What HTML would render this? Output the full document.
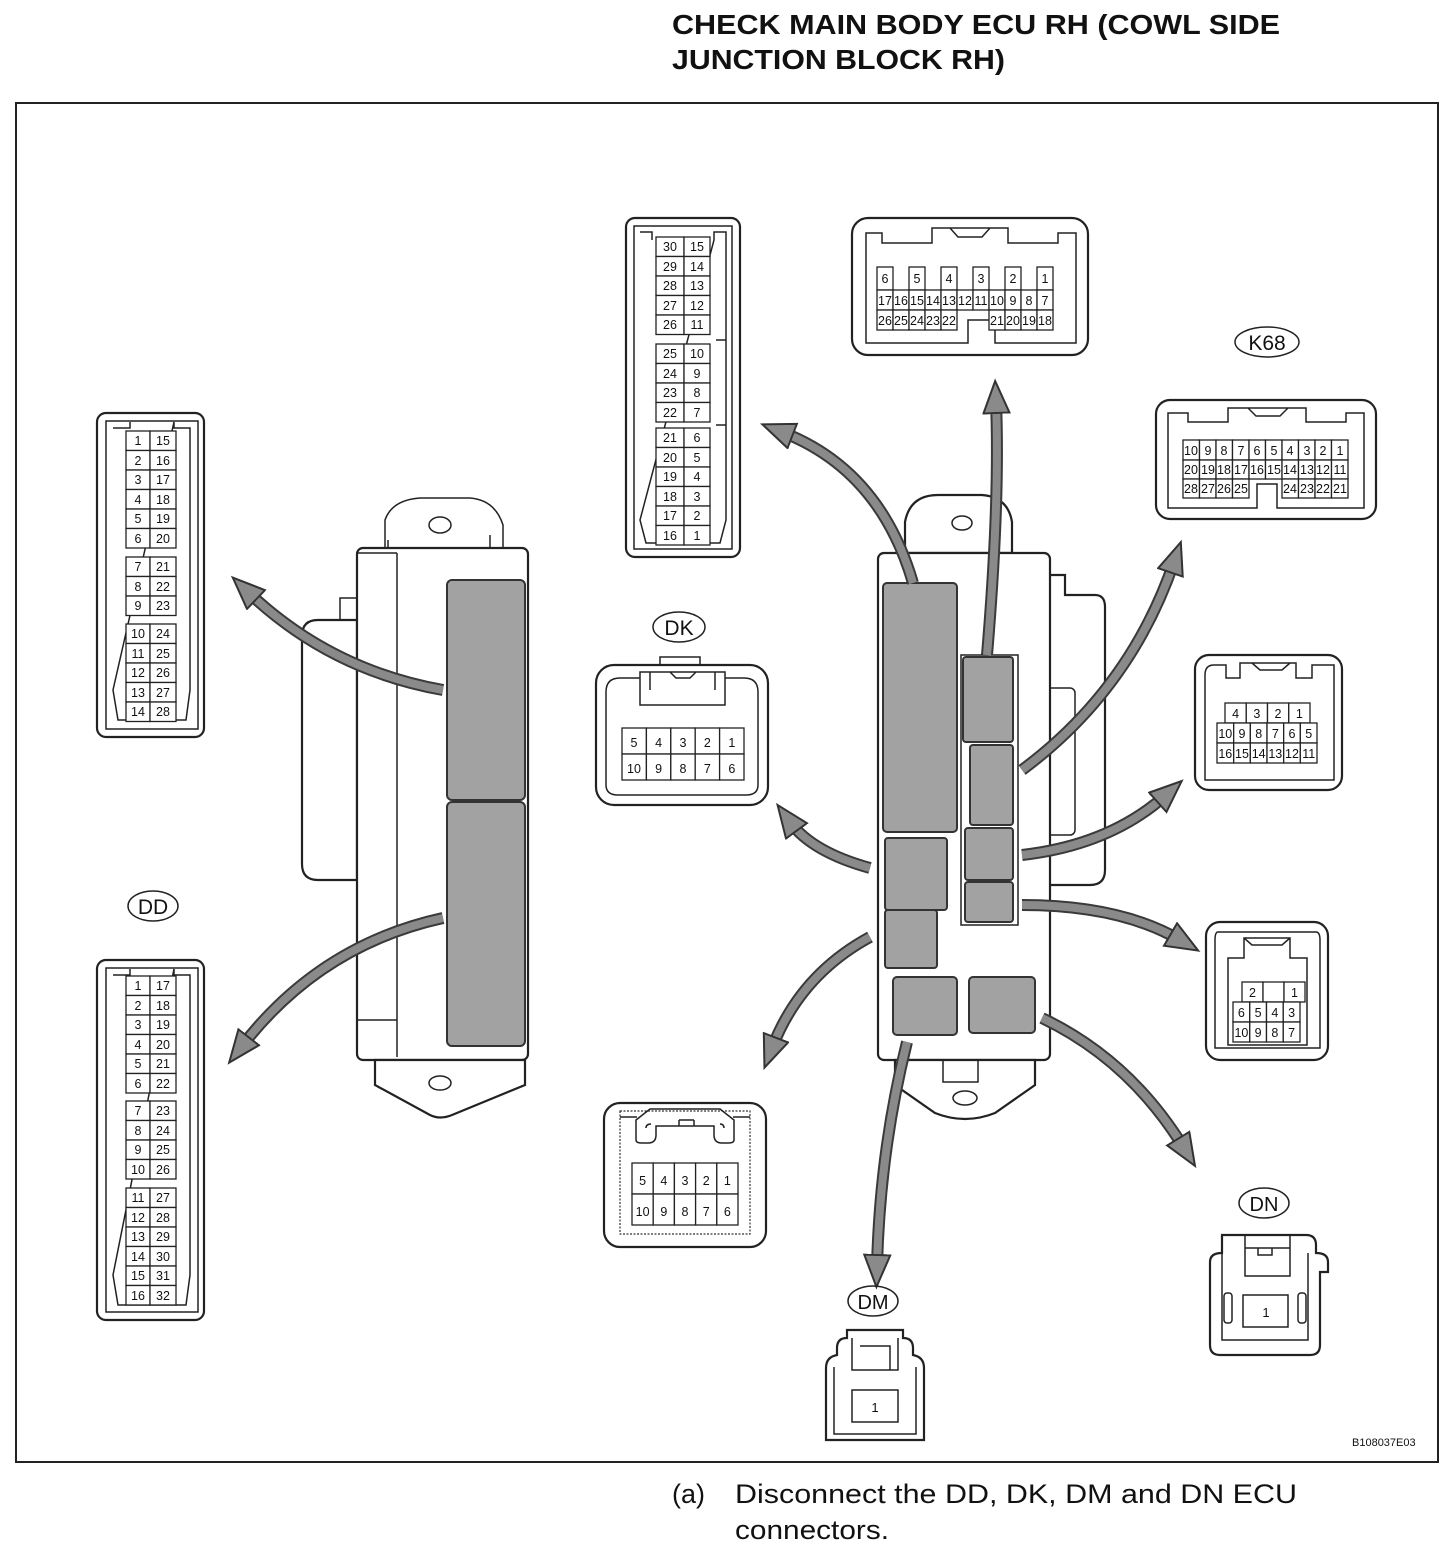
<!DOCTYPE html>
<html><head><meta charset="utf-8"><style>
html,body{margin:0;padding:0;background:#fff;}
svg{display:block;}
text{font-family:"Liberation Sans",Arial,sans-serif;fill:#111;}
.c rect{fill:#fff;stroke:#222;stroke-width:1.3;}
.c text{font-size:12.5px;text-anchor:middle;}
.o{fill:#fff;stroke:#222;stroke-width:2.2;}
.l{fill:none;stroke:#222;stroke-width:1.5;}
.g{fill:#a2a2a2;stroke:#333;stroke-width:2;}
.ad{fill:none;stroke:#3a3a3a;stroke-width:12;}
.ag{fill:none;stroke:#8a8a8a;stroke-width:8;}
</style></head><body>
<svg width="1456" height="1552" viewBox="0 0 1456 1552" xmlns="http://www.w3.org/2000/svg">
<defs>
<marker id="ah" markerUnits="userSpaceOnUse" markerWidth="40" markerHeight="34" refX="12" refY="14" orient="auto">
<path d="M1,1 L33,14 L1,27 Z" fill="#8a8a8a" stroke="#333" stroke-width="2"/>
</marker>
</defs>
<text x="672" y="34" font-size="28" font-weight="bold" textLength="608" lengthAdjust="spacingAndGlyphs">CHECK MAIN BODY ECU RH (COWL SIDE</text>
<text x="672" y="69" font-size="28" font-weight="bold" textLength="333" lengthAdjust="spacingAndGlyphs">JUNCTION BLOCK RH)</text>
<rect x="16" y="103" width="1422" height="1359" fill="none" stroke="#222" stroke-width="2"/>

<!-- LEFT ECU -->
<path class="l" d="M385,548 V520 Q392,500 420,498 H470 Q495,500 503,525 V548" />
<ellipse class="l" cx="440" cy="525" rx="11" ry="8"/>
<path class="o" d="M357,620 H318 Q302,620 302,636 V864 Q302,880 318,880 H357 Z"/>
<path class="l" d="M340,620 V598 H357"/>
<rect class="o" x="357" y="548" width="171" height="512" rx="6"/>
<path class="l" d="M397,553 V1057 M397,1020 H357 M397,553 H357"/>
<path class="l" d="M490,548 V535 M388,548 V540"/>
<path class="o" d="M375,1060 V1085 L430,1115 Q440,1120 452,1115 L525,1085 V1060 Z"/>
<ellipse class="l" cx="440" cy="1083" rx="11" ry="7"/>
<rect class="g" x="447" y="580" width="78" height="220" rx="5"/>
<rect class="g" x="447" y="802" width="78" height="244" rx="5"/>

<!-- RIGHT ECU -->
<path class="o" d="M905,553 V522 Q910,495 938,495 H982 Q1008,497 1012,522 V553 Z"/>
<ellipse class="l" cx="962" cy="523" rx="10" ry="7"/>
<path class="o" d="M1040,575 H1065 V595 H1095 Q1105,595 1105,607 V870 Q1105,885 1090,885 H1040 Z"/>
<rect class="l" x="1045" y="688" width="30" height="147" rx="5"/>
<rect class="o" x="878" y="553" width="172" height="507" rx="6"/>
<path class="o" d="M895,1060 V1085 L935,1113 Q965,1125 995,1113 L1035,1085 V1060 Z"/>
<ellipse class="l" cx="965" cy="1098" rx="12" ry="7"/>
<rect class="l" x="943" y="1060" width="35" height="22"/>
<rect class="l" x="961" y="655" width="57" height="270"/>
<rect class="g" x="883" y="583" width="74" height="249" rx="4"/>
<rect class="g" x="885" y="838" width="62" height="72" rx="3"/>
<rect class="g" x="885" y="910" width="52" height="58" rx="3"/>
<rect class="g" x="963" y="657" width="50" height="85" rx="3"/>
<rect class="g" x="970" y="745" width="43" height="80" rx="3"/>
<rect class="g" x="965" y="828" width="48" height="52" rx="3"/>
<rect class="g" x="965" y="882" width="48" height="40" rx="3"/>
<rect class="g" x="893" y="977" width="64" height="58" rx="4"/>
<rect class="g" x="969" y="977" width="66" height="56" rx="4"/>

<!-- ARROWS -->
<g>
<path class="ad" d="M443,690 Q330,670 248,592"/><path class="ag" d="M443,690 Q330,670 248,592" marker-end="url(#ah)"/>
<path class="ad" d="M443,918 Q320,945 242,1046"/><path class="ag" d="M443,918 Q320,945 242,1046" marker-end="url(#ah)"/>
<path class="ad" d="M913,583 Q880,470 782,432"/><path class="ag" d="M913,583 Q880,470 782,432" marker-end="url(#ah)"/>
<path class="ad" d="M987,655 Q1000,500 996,402"/><path class="ag" d="M987,655 Q1000,500 996,402" marker-end="url(#ah)"/>
<path class="ad" d="M1022,770 Q1130,690 1174,562"/><path class="ag" d="M1022,770 Q1130,690 1174,562" marker-end="url(#ah)"/>
<path class="ad" d="M1022,855 Q1110,845 1166,795"/><path class="ag" d="M1022,855 Q1110,845 1166,795" marker-end="url(#ah)"/>
<path class="ad" d="M1022,905 Q1120,905 1180,940"/><path class="ag" d="M1022,905 Q1120,905 1180,940" marker-end="url(#ah)"/>
<path class="ad" d="M1042,1018 Q1130,1060 1184,1148"/><path class="ag" d="M1042,1018 Q1130,1060 1184,1148" marker-end="url(#ah)"/>
<path class="ad" d="M907,1042 Q880,1150 877,1266"/><path class="ag" d="M907,1042 Q880,1150 877,1266" marker-end="url(#ah)"/>
<path class="ad" d="M870,937 Q800,975 772,1048"/><path class="ag" d="M870,937 Q800,975 772,1048" marker-end="url(#ah)"/>
<path class="ad" d="M870,868 Q812,852 790,822"/><path class="ag" d="M870,868 Q812,852 790,822" marker-end="url(#ah)"/>
</g>

<!-- LEFT CONNECTOR 1-28 -->
<rect class="o" x="97" y="413" width="107" height="324" rx="9"/>
<path class="l" d="M106,421 H198 V729 H106 Z M113,428 H130 V422 M174,422 V428 H190 V690 L186,720 H118 L113,690 Z"/>
<g class="c">
<rect x="126" y="431" width="24" height="19.5"/><rect x="150" y="431" width="26" height="19.5"/><text x="138" y="445">1</text><text x="163" y="445">15</text>
<rect x="126" y="450.5" width="24" height="19.5"/><rect x="150" y="450.5" width="26" height="19.5"/><text x="138" y="465">2</text><text x="163" y="465">16</text>
<rect x="126" y="470" width="24" height="19.5"/><rect x="150" y="470" width="26" height="19.5"/><text x="138" y="484">3</text><text x="163" y="484">17</text>
<rect x="126" y="489.5" width="24" height="19.5"/><rect x="150" y="489.5" width="26" height="19.5"/><text x="138" y="504">4</text><text x="163" y="504">18</text>
<rect x="126" y="509" width="24" height="19.5"/><rect x="150" y="509" width="26" height="19.5"/><text x="138" y="523">5</text><text x="163" y="523">19</text>
<rect x="126" y="528.5" width="24" height="19.5"/><rect x="150" y="528.5" width="26" height="19.5"/><text x="138" y="543">6</text><text x="163" y="543">20</text>
<rect x="126" y="557" width="24" height="19.5"/><rect x="150" y="557" width="26" height="19.5"/><text x="138" y="571">7</text><text x="163" y="571">21</text>
<rect x="126" y="576.5" width="24" height="19.5"/><rect x="150" y="576.5" width="26" height="19.5"/><text x="138" y="591">8</text><text x="163" y="591">22</text>
<rect x="126" y="596" width="24" height="19.5"/><rect x="150" y="596" width="26" height="19.5"/><text x="138" y="610">9</text><text x="163" y="610">23</text>
<rect x="126" y="624" width="24" height="19.5"/><rect x="150" y="624" width="26" height="19.5"/><text x="138" y="638">10</text><text x="163" y="638">24</text>
<rect x="126" y="643.5" width="24" height="19.5"/><rect x="150" y="643.5" width="26" height="19.5"/><text x="138" y="658">11</text><text x="163" y="658">25</text>
<rect x="126" y="663" width="24" height="19.5"/><rect x="150" y="663" width="26" height="19.5"/><text x="138" y="677">12</text><text x="163" y="677">26</text>
<rect x="126" y="682.5" width="24" height="19.5"/><rect x="150" y="682.5" width="26" height="19.5"/><text x="138" y="697">13</text><text x="163" y="697">27</text>
<rect x="126" y="702" width="24" height="19.5"/><rect x="150" y="702" width="26" height="19.5"/><text x="138" y="716">14</text><text x="163" y="716">28</text>
</g>

<!-- DD -->
<ellipse class="l" cx="153" cy="906" rx="25" ry="15"/><text x="153" y="914" font-size="21" text-anchor="middle">DD</text>
<rect class="o" x="97" y="960" width="107" height="360" rx="9"/>
<path class="l" d="M106,968 H198 V1312 H106 Z M113,975 H130 V969 M174,969 V975 H190 V1275 L186,1305 H118 L113,1275 Z"/>
<g class="c">
<rect x="126" y="976" width="24" height="19.5"/><rect x="150" y="976" width="26" height="19.5"/><text x="138" y="990">1</text><text x="163" y="990">17</text>
<rect x="126" y="995.5" width="24" height="19.5"/><rect x="150" y="995.5" width="26" height="19.5"/><text x="138" y="1010">2</text><text x="163" y="1010">18</text>
<rect x="126" y="1015" width="24" height="19.5"/><rect x="150" y="1015" width="26" height="19.5"/><text x="138" y="1029">3</text><text x="163" y="1029">19</text>
<rect x="126" y="1034.5" width="24" height="19.5"/><rect x="150" y="1034.5" width="26" height="19.5"/><text x="138" y="1049">4</text><text x="163" y="1049">20</text>
<rect x="126" y="1054" width="24" height="19.5"/><rect x="150" y="1054" width="26" height="19.5"/><text x="138" y="1068">5</text><text x="163" y="1068">21</text>
<rect x="126" y="1073.5" width="24" height="19.5"/><rect x="150" y="1073.5" width="26" height="19.5"/><text x="138" y="1088">6</text><text x="163" y="1088">22</text>
<rect x="126" y="1101" width="24" height="19.5"/><rect x="150" y="1101" width="26" height="19.5"/><text x="138" y="1115">7</text><text x="163" y="1115">23</text>
<rect x="126" y="1120.5" width="24" height="19.5"/><rect x="150" y="1120.5" width="26" height="19.5"/><text x="138" y="1135">8</text><text x="163" y="1135">24</text>
<rect x="126" y="1140" width="24" height="19.5"/><rect x="150" y="1140" width="26" height="19.5"/><text x="138" y="1154">9</text><text x="163" y="1154">25</text>
<rect x="126" y="1159.5" width="24" height="19.5"/><rect x="150" y="1159.5" width="26" height="19.5"/><text x="138" y="1174">10</text><text x="163" y="1174">26</text>
<rect x="126" y="1188" width="24" height="19.5"/><rect x="150" y="1188" width="26" height="19.5"/><text x="138" y="1202">11</text><text x="163" y="1202">27</text>
<rect x="126" y="1207.5" width="24" height="19.5"/><rect x="150" y="1207.5" width="26" height="19.5"/><text x="138" y="1222">12</text><text x="163" y="1222">28</text>
<rect x="126" y="1227" width="24" height="19.5"/><rect x="150" y="1227" width="26" height="19.5"/><text x="138" y="1241">13</text><text x="163" y="1241">29</text>
<rect x="126" y="1246.5" width="24" height="19.5"/><rect x="150" y="1246.5" width="26" height="19.5"/><text x="138" y="1261">14</text><text x="163" y="1261">30</text>
<rect x="126" y="1266" width="24" height="19.5"/><rect x="150" y="1266" width="26" height="19.5"/><text x="138" y="1280">15</text><text x="163" y="1280">31</text>
<rect x="126" y="1285.5" width="24" height="19.5"/><rect x="150" y="1285.5" width="26" height="19.5"/><text x="138" y="1300">16</text><text x="163" y="1300">32</text>
</g>

<!-- TOP MIDDLE 30-1 -->
<rect class="o" x="626" y="218" width="114" height="339" rx="9"/>
<path class="l" d="M634,226 H732 V549 H634 Z M640,232 H652 V240 M714,240 V232 H726 V520 L720,543 H646 L640,520 Z M716,340 H726 M716,425 H726"/>
<g class="c">
<rect x="656" y="237" width="28" height="19.5"/><rect x="684" y="237" width="26" height="19.5"/><text x="670" y="251">30</text><text x="697" y="251">15</text>
<rect x="656" y="256.5" width="28" height="19.5"/><rect x="684" y="256.5" width="26" height="19.5"/><text x="670" y="271">29</text><text x="697" y="271">14</text>
<rect x="656" y="276" width="28" height="19.5"/><rect x="684" y="276" width="26" height="19.5"/><text x="670" y="290">28</text><text x="697" y="290">13</text>
<rect x="656" y="295.5" width="28" height="19.5"/><rect x="684" y="295.5" width="26" height="19.5"/><text x="670" y="310">27</text><text x="697" y="310">12</text>
<rect x="656" y="315" width="28" height="19.5"/><rect x="684" y="315" width="26" height="19.5"/><text x="670" y="329">26</text><text x="697" y="329">11</text>
<rect x="656" y="344" width="28" height="19.5"/><rect x="684" y="344" width="26" height="19.5"/><text x="670" y="358">25</text><text x="697" y="358">10</text>
<rect x="656" y="363.5" width="28" height="19.5"/><rect x="684" y="363.5" width="26" height="19.5"/><text x="670" y="378">24</text><text x="697" y="378">9</text>
<rect x="656" y="383" width="28" height="19.5"/><rect x="684" y="383" width="26" height="19.5"/><text x="670" y="397">23</text><text x="697" y="397">8</text>
<rect x="656" y="402.5" width="28" height="19.5"/><rect x="684" y="402.5" width="26" height="19.5"/><text x="670" y="417">22</text><text x="697" y="417">7</text>
<rect x="656" y="428" width="28" height="19.5"/><rect x="684" y="428" width="26" height="19.5"/><text x="670" y="442">21</text><text x="697" y="442">6</text>
<rect x="656" y="447.5" width="28" height="19.5"/><rect x="684" y="447.5" width="26" height="19.5"/><text x="670" y="462">20</text><text x="697" y="462">5</text>
<rect x="656" y="467" width="28" height="19.5"/><rect x="684" y="467" width="26" height="19.5"/><text x="670" y="481">19</text><text x="697" y="481">4</text>
<rect x="656" y="486.5" width="28" height="19.5"/><rect x="684" y="486.5" width="26" height="19.5"/><text x="670" y="501">18</text><text x="697" y="501">3</text>
<rect x="656" y="506" width="28" height="19.5"/><rect x="684" y="506" width="26" height="19.5"/><text x="670" y="520">17</text><text x="697" y="520">2</text>
<rect x="656" y="525.5" width="28" height="19.5"/><rect x="684" y="525.5" width="26" height="19.5"/><text x="670" y="540">16</text><text x="697" y="540">1</text>
</g>

<!-- TOP CONNECTOR 1-26 -->
<rect class="o" x="852" y="218" width="236" height="137" rx="16"/>
<path class="l" d="M866,233 H882 V243 H932 V228 H1008 V243 H1058 V233 H1076 V343 H995 V320 H968 V343 H866 Z M950,228 L958,237 H982 L990,228"/>
<g class="c" style="font-size:11px">
<rect x="877" y="267" width="16" height="23"/><text x="885" y="283">6</text>
<rect x="909" y="267" width="16" height="23"/><text x="917" y="283">5</text>
<rect x="941" y="267" width="16" height="23"/><text x="949" y="283">4</text>
<rect x="973" y="267" width="16" height="23"/><text x="981" y="283">3</text>
<rect x="1005" y="267" width="16" height="23"/><text x="1013" y="283">2</text>
<rect x="1037" y="267" width="16" height="23"/><text x="1045" y="283">1</text>
<rect x="877" y="290" width="16" height="20"/><text x="885" y="305">17</text>
<rect x="893" y="290" width="16" height="20"/><text x="901" y="305">16</text>
<rect x="909" y="290" width="16" height="20"/><text x="917" y="305">15</text>
<rect x="925" y="290" width="16" height="20"/><text x="933" y="305">14</text>
<rect x="941" y="290" width="16" height="20"/><text x="949" y="305">13</text>
<rect x="957" y="290" width="16" height="20"/><text x="965" y="305">12</text>
<rect x="973" y="290" width="16" height="20"/><text x="981" y="305">11</text>
<rect x="989" y="290" width="16" height="20"/><text x="997" y="305">10</text>
<rect x="1005" y="290" width="16" height="20"/><text x="1013" y="305">9</text>
<rect x="1021" y="290" width="16" height="20"/><text x="1029" y="305">8</text>
<rect x="1037" y="290" width="16" height="20"/><text x="1045" y="305">7</text>
<rect x="877" y="310" width="16" height="20"/><text x="885" y="325">26</text>
<rect x="893" y="310" width="16" height="20"/><text x="901" y="325">25</text>
<rect x="909" y="310" width="16" height="20"/><text x="917" y="325">24</text>
<rect x="925" y="310" width="16" height="20"/><text x="933" y="325">23</text>
<rect x="941" y="310" width="16" height="20"/><text x="949" y="325">22</text>
<rect x="989" y="310" width="16" height="20"/><text x="997" y="325">21</text>
<rect x="1005" y="310" width="16" height="20"/><text x="1013" y="325">20</text>
<rect x="1021" y="310" width="16" height="20"/><text x="1029" y="325">19</text>
<rect x="1037" y="310" width="16" height="20"/><text x="1045" y="325">18</text>
</g>

<!-- K68 -->
<ellipse class="l" cx="1267" cy="342" rx="32" ry="15"/><text x="1267" y="350" font-size="21" text-anchor="middle">K68</text>
<rect class="o" x="1156" y="400" width="220" height="119" rx="14"/>
<path class="l" d="M1168,413 H1188 V422 H1228 V408 H1306 V422 H1346 V413 H1364 V508 H1277 V484 H1257 V508 H1168 Z M1248,408 L1256,416 H1280 L1288,408"/>
<g class="c" style="font-size:11px">
<rect x="1183" y="440" width="16.5" height="20"/><text x="1191" y="455">10</text>
<rect x="1199.5" y="440" width="16.5" height="20"/><text x="1208" y="455">9</text>
<rect x="1216" y="440" width="16.5" height="20"/><text x="1224" y="455">8</text>
<rect x="1232.5" y="440" width="16.5" height="20"/><text x="1241" y="455">7</text>
<rect x="1249" y="440" width="16.5" height="20"/><text x="1257" y="455">6</text>
<rect x="1265.5" y="440" width="16.5" height="20"/><text x="1274" y="455">5</text>
<rect x="1282" y="440" width="16.5" height="20"/><text x="1290" y="455">4</text>
<rect x="1298.5" y="440" width="16.5" height="20"/><text x="1307" y="455">3</text>
<rect x="1315" y="440" width="16.5" height="20"/><text x="1323" y="455">2</text>
<rect x="1331.5" y="440" width="16.5" height="20"/><text x="1340" y="455">1</text>
<rect x="1183" y="460" width="16.5" height="19"/><text x="1191" y="474">20</text>
<rect x="1199.5" y="460" width="16.5" height="19"/><text x="1208" y="474">19</text>
<rect x="1216" y="460" width="16.5" height="19"/><text x="1224" y="474">18</text>
<rect x="1232.5" y="460" width="16.5" height="19"/><text x="1241" y="474">17</text>
<rect x="1249" y="460" width="16.5" height="19"/><text x="1257" y="474">16</text>
<rect x="1265.5" y="460" width="16.5" height="19"/><text x="1274" y="474">15</text>
<rect x="1282" y="460" width="16.5" height="19"/><text x="1290" y="474">14</text>
<rect x="1298.5" y="460" width="16.5" height="19"/><text x="1307" y="474">13</text>
<rect x="1315" y="460" width="16.5" height="19"/><text x="1323" y="474">12</text>
<rect x="1331.5" y="460" width="16.5" height="19"/><text x="1340" y="474">11</text>
<rect x="1183" y="479" width="16.5" height="19"/><text x="1191" y="493">28</text>
<rect x="1199.5" y="479" width="16.5" height="19"/><text x="1208" y="493">27</text>
<rect x="1216" y="479" width="16.5" height="19"/><text x="1224" y="493">26</text>
<rect x="1232.5" y="479" width="16.5" height="19"/><text x="1241" y="493">25</text>
<rect x="1282" y="479" width="16.5" height="19"/><text x="1290" y="493">24</text>
<rect x="1298.5" y="479" width="16.5" height="19"/><text x="1307" y="493">23</text>
<rect x="1315" y="479" width="16.5" height="19"/><text x="1323" y="493">22</text>
<rect x="1331.5" y="479" width="16.5" height="19"/><text x="1340" y="493">21</text>
</g>

<!-- DK -->
<ellipse class="l" cx="679" cy="627" rx="26" ry="15"/><text x="679" y="635" font-size="21" text-anchor="middle">DK</text>
<path class="l" d="M660,665 V657 H700 V665"/>
<rect class="o" x="596" y="665" width="172" height="140" rx="18"/>
<path class="l" d="M620,678 Q606,678 606,692 V785 Q606,795 618,795 H746 Q758,795 758,785 V692 Q758,678 744,678 H725 V705 H640 V678 Z M640,678 V672 H725 V678 M650,672 V690 M715,672 V690 M670,672 L676,678 H690 L696,672"/>
<g class="c" style="font-size:15px">
<rect x="622" y="728" width="24.4" height="26"/><text x="634" y="747">5</text>
<rect x="646.4" y="728" width="24.4" height="26"/><text x="658.6" y="747">4</text>
<rect x="670.8" y="728" width="24.4" height="26"/><text x="683" y="747">3</text>
<rect x="695.2" y="728" width="24.4" height="26"/><text x="707.4" y="747">2</text>
<rect x="719.6" y="728" width="24.4" height="26"/><text x="731.8" y="747">1</text>
<rect x="622" y="754" width="24.4" height="26"/><text x="634" y="773">10</text>
<rect x="646.4" y="754" width="24.4" height="26"/><text x="658.6" y="773">9</text>
<rect x="670.8" y="754" width="24.4" height="26"/><text x="683" y="773">8</text>
<rect x="695.2" y="754" width="24.4" height="26"/><text x="707.4" y="773">7</text>
<rect x="719.6" y="754" width="24.4" height="26"/><text x="731.8" y="773">6</text>
</g>

<!-- RIGHT CONNECTOR A -->
<rect class="o" x="1195" y="655" width="147" height="135" rx="14"/>
<path class="l" d="M1214,665 H1226 V678 H1240 V663 H1296 V678 H1312 V665 H1334 V780 H1205 V675 Q1205,665 1214,665 Z M1252,663 L1260,670 H1282 L1290,663"/>
<g class="c" style="font-size:11.5px">
<rect x="1225" y="703" width="21.25" height="20"/><text x="1235.6" y="718">4</text>
<rect x="1246.25" y="703" width="21.25" height="20"/><text x="1256.9" y="718">3</text>
<rect x="1267.5" y="703" width="21.25" height="20"/><text x="1278" y="718">2</text>
<rect x="1288.75" y="703" width="21.25" height="20"/><text x="1299.4" y="718">1</text>
<rect x="1217" y="723" width="16.67" height="20"/><text x="1225.3" y="738">10</text>
<rect x="1233.67" y="723" width="16.67" height="20"/><text x="1242" y="738">9</text>
<rect x="1250.33" y="723" width="16.67" height="20"/><text x="1258.7" y="738">8</text>
<rect x="1267" y="723" width="16.67" height="20"/><text x="1275.3" y="738">7</text>
<rect x="1283.67" y="723" width="16.67" height="20"/><text x="1292" y="738">6</text>
<rect x="1300.33" y="723" width="16.67" height="20"/><text x="1308.7" y="738">5</text>
<rect x="1217" y="743" width="16.67" height="20"/><text x="1225.3" y="758">16</text>
<rect x="1233.67" y="743" width="16.67" height="20"/><text x="1242" y="758">15</text>
<rect x="1250.33" y="743" width="16.67" height="20"/><text x="1258.7" y="758">14</text>
<rect x="1267" y="743" width="16.67" height="20"/><text x="1275.3" y="758">13</text>
<rect x="1283.67" y="743" width="16.67" height="20"/><text x="1292" y="758">12</text>
<rect x="1300.33" y="743" width="16.67" height="20"/><text x="1308.7" y="758">11</text>
</g>

<!-- RIGHT CONNECTOR B -->
<rect class="o" x="1206" y="922" width="122" height="138" rx="14"/>
<path class="l" d="M1218,932 H1316 Q1320,932 1320,940 V1048 H1215 V940 Q1215,932 1218,932 Z M1244,938 H1290 V958 H1307 V1045 H1228 V958 H1244 Z M1244,938 L1252,945 H1282 L1290,938"/>
<g class="c" style="font-size:12px">
<rect x="1242" y="982" width="21" height="20"/><text x="1252.5" y="997">2</text>
<rect x="1263" y="982" width="21" height="20"/>
<rect x="1284" y="982" width="21" height="20"/><text x="1294.5" y="997">1</text>
<rect x="1233" y="1002" width="16.75" height="20"/><text x="1241.4" y="1017">6</text>
<rect x="1249.75" y="1002" width="16.75" height="20"/><text x="1258.1" y="1017">5</text>
<rect x="1266.5" y="1002" width="16.75" height="20"/><text x="1274.9" y="1017">4</text>
<rect x="1283.25" y="1002" width="16.75" height="20"/><text x="1291.6" y="1017">3</text>
<rect x="1233" y="1022" width="16.75" height="20"/><text x="1241.4" y="1037">10</text>
<rect x="1249.75" y="1022" width="16.75" height="20"/><text x="1258.1" y="1037">9</text>
<rect x="1266.5" y="1022" width="16.75" height="20"/><text x="1274.9" y="1037">8</text>
<rect x="1283.25" y="1022" width="16.75" height="20"/><text x="1291.6" y="1037">7</text>
</g>

<!-- BOTTOM LEFT 10-pin -->
<rect class="o" x="604" y="1103" width="162" height="144" rx="16"/>
<rect x="620" y="1111" width="130" height="123" fill="none" stroke="#333" stroke-width="1.2" stroke-dasharray="2,1.5"/>
<path class="l" d="M620,1117 H637 M733,1117 H750 M650,1109 H720 L734,1120 V1140 Q734,1143 728,1143 H722 Q714,1143 714,1135 V1126 H656 V1135 Q656,1143 648,1143 H642 Q636,1143 636,1140 V1120 Z M679,1120 V1126 M694,1120 V1126 M679,1120 H694 M646,1128 Q646,1124 651,1124 M720,1124 Q724,1124 724,1128"/>
<g class="c" style="font-size:16px">
<rect x="632" y="1163" width="21.2" height="31"/><text x="642.6" y="1185">5</text>
<rect x="653.2" y="1163" width="21.2" height="31"/><text x="663.8" y="1185">4</text>
<rect x="674.4" y="1163" width="21.2" height="31"/><text x="685" y="1185">3</text>
<rect x="695.6" y="1163" width="21.2" height="31"/><text x="706.2" y="1185">2</text>
<rect x="716.8" y="1163" width="21.2" height="31"/><text x="727.4" y="1185">1</text>
<rect x="632" y="1194" width="21.2" height="31"/><text x="642.6" y="1216">10</text>
<rect x="653.2" y="1194" width="21.2" height="31"/><text x="663.8" y="1216">9</text>
<rect x="674.4" y="1194" width="21.2" height="31"/><text x="685" y="1216">8</text>
<rect x="695.6" y="1194" width="21.2" height="31"/><text x="706.2" y="1216">7</text>
<rect x="716.8" y="1194" width="21.2" height="31"/><text x="727.4" y="1216">6</text>
</g>

<!-- DM -->
<ellipse class="l" cx="873" cy="1301" rx="25" ry="15"/><text x="873" y="1309" font-size="20" text-anchor="middle">DM</text>
<path class="o" d="M847,1330 H903 V1338 Q913,1338 913,1348 V1355 Q924,1357 924,1368 V1440 H826 V1368 Q826,1357 837,1355 V1348 Q837,1338 847,1338 Z"/>
<path class="l" d="M834,1367 V1434 H916 V1367 M852,1338 V1370 H898 V1338 M860,1346 H890 V1370"/>
<rect class="o" x="852" y="1390" width="46" height="32" style="stroke-width:1.5"/>
<text x="875" y="1412" font-size="13" text-anchor="middle">1</text>

<!-- DN -->
<ellipse class="l" cx="1264" cy="1203" rx="25" ry="15"/><text x="1264" y="1211" font-size="20" text-anchor="middle">DN</text>
<path class="o" d="M1222,1235 H1306 Q1316,1235 1316,1245 V1253 Q1328,1253 1328,1262 V1272 H1320 V1345 Q1320,1355 1310,1355 H1220 Q1210,1355 1210,1345 V1272 H1210 V1262 Q1210,1253 1222,1253 Z"/>
<path class="l" d="M1245,1236 V1276 H1290 V1236 M1245,1248 H1290 M1258,1248 V1255 H1272 V1248 M1222,1253 V1340 H1308 V1253"/>
<rect class="l" x="1224" y="1293" width="8" height="30" rx="3"/>
<rect class="l" x="1298" y="1293" width="8" height="30" rx="3"/>
<rect class="o" x="1243" y="1295" width="45" height="32" style="stroke-width:1.5"/>
<text x="1266" y="1317" font-size="13" text-anchor="middle">1</text>

<text x="1352" y="1446" font-size="11">B108037E03</text>
<text x="672" y="1503" font-size="27">(a)</text>
<text x="735" y="1503" font-size="27" textLength="562" lengthAdjust="spacingAndGlyphs">Disconnect the DD, DK, DM and DN ECU</text>
<text x="735" y="1539" font-size="27" textLength="154" lengthAdjust="spacingAndGlyphs">connectors.</text>
</svg>
</body></html>
